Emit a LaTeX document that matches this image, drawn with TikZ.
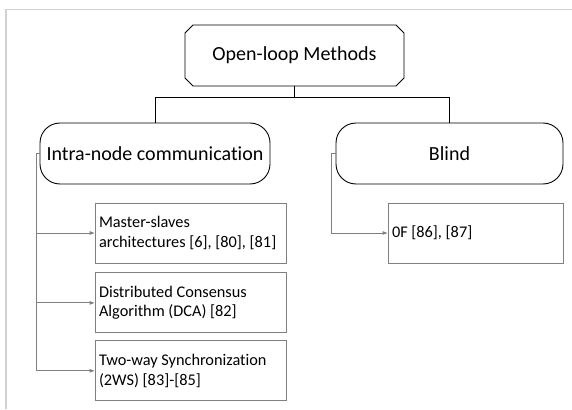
\documentclass[tikz,border=0pt]{standalone}
\usepackage{fontspec}
\setmainfont{Carlito}[Ligatures=NoCommon]
\usetikzlibrary{arrows.meta,positioning,shapes.misc}
\tikzset{
  topbox/.style={draw, chamfered rectangle, chamfered rectangle xsep=4pt,
                 chamfered rectangle ysep=4pt, line width=0.9pt,
                 minimum width=219pt, minimum height=61pt,
                 font=\fontsize{20}{24}\selectfont},
  group/.style={draw, rounded corners=20pt, line width=0.9pt,
                minimum height=61pt, font=\fontsize{20}{24}\selectfont},
  leaf/.style={draw=black!50, line width=0.9pt, minimum height=60pt,
               inner xsep=4pt, align=flush left, text width=#1,
               font=\fontsize{16.3}{19.5}\selectfont},
  link/.style={line width=0.9pt},
  side/.style={draw=black!50, line width=0.9pt,
               -{Triangle[length=5pt,width=3.5pt]}},
  frame/.style={draw=black!18, line width=1.5pt}
}
\begin{document}
\begin{tikzpicture}[x=1pt, y=-1pt]
  \useasboundingbox (0,0) rectangle (572,409);
  \draw[frame] (6,409) |- (572,9.5);

  \node[topbox] (top) at (294.5,55.5) {Open-loop Methods};
  \node[group, minimum width=230pt] (intra) at (155,153.5) {Intra-node communication};
  \node[group, minimum width=227pt] (blind) at (449.5,153.5) {Blind};

  \node[leaf=183pt] (ms) at (190.5,233) {Master-slaves\\architectures [6], [80], [81]};
  \node[leaf=183pt, below=9pt of ms] (dca) {Distributed Consensus\\Algorithm (DCA) [82]};
  \node[leaf=183pt, below=7pt of dca] (tws) {Two-way Synchronization\\(2WS) [83]-[85]};
  \node[leaf=167pt] (of) at (475.5,233) {0F [86], [87]};

  \draw[link] (top.south) -- ++(0,11) -| (intra.north);
  \draw[link] (top.south) -- ++(0,11) -| (blind.north);
  \foreach \leafname in {ms,dca,tws}
    \draw[side] (intra.west) -- ++(-3,0) |- (\leafname.west);
  \draw[side] (blind.west) -- ++(-4,0) |- (of.west);
\end{tikzpicture}
\end{document}
